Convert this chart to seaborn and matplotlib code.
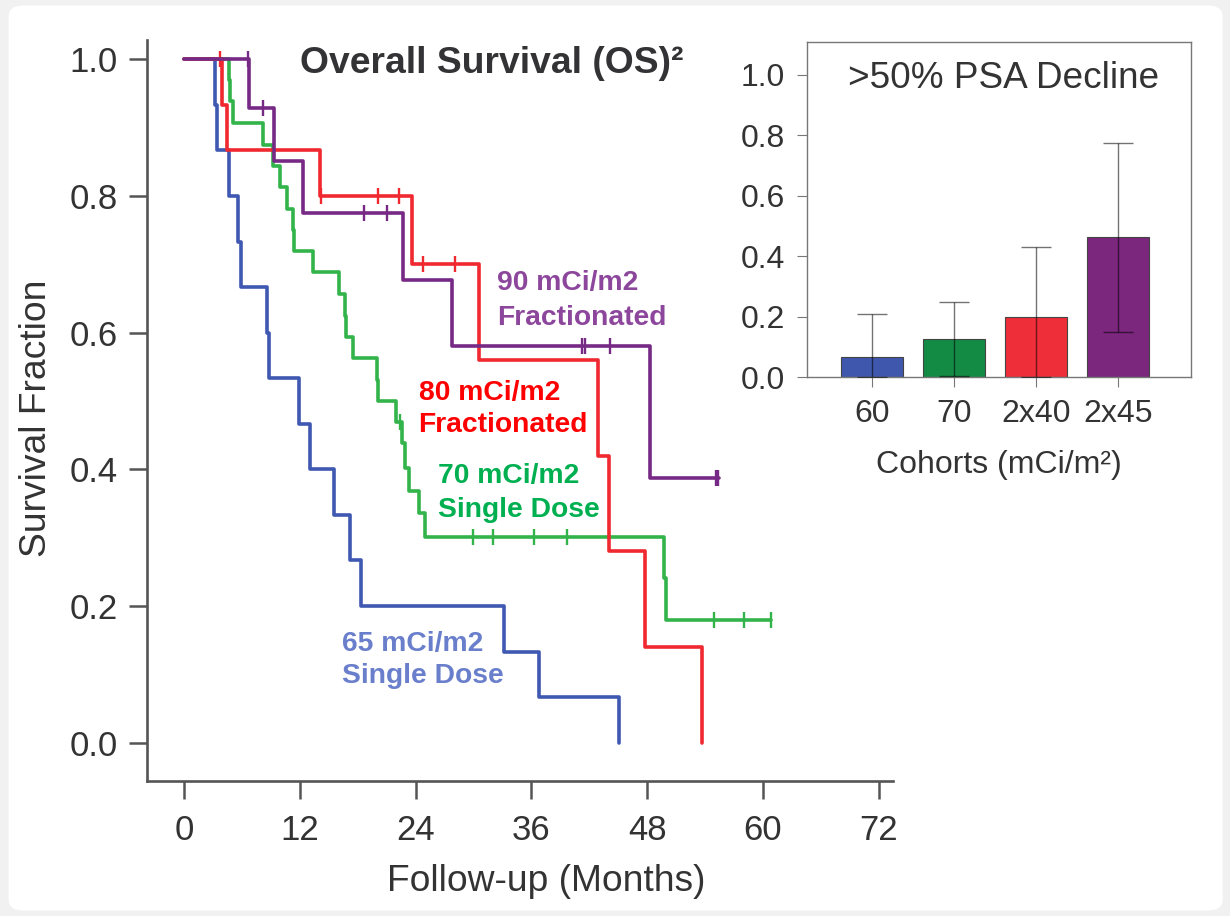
import numpy as np
import pandas as pd
import matplotlib
matplotlib.use("Agg")
import matplotlib.pyplot as plt
import seaborn as sns
from matplotlib.patches import FancyBboxPatch
from matplotlib.ticker import FormatStrFormatter

# ---------------- data ----------------
# 65 mCi/m2 single dose (blue)
blue_t = [0, 3.2, 3.4, 4.6, 5.6, 5.9, 8.6, 8.8, 11.9, 13.0, 15.5, 17.2, 18.3, 33.2, 36.8, 45.1]
blue_s = [1.0, 0.933, 0.867, 0.800, 0.733, 0.667, 0.600, 0.533, 0.467, 0.400, 0.333, 0.267, 0.200, 0.133, 0.067, 0.0]
blue_ct = []
blue_cs = []

# 70 mCi/m2 single dose (green)
green_t = [0, 4.6, 4.7, 5.05, 8.2, 9.2, 9.9, 10.7, 11.3, 11.4, 13.3, 16.0, 16.7, 16.8, 17.5,
           20.0, 20.1, 22.0, 22.6, 22.9, 23.3, 24.3, 25.0, 49.7, 50.0, 60.8]
green_s = [1.0, 0.969, 0.938, 0.906, 0.875, 0.844, 0.813, 0.781, 0.750, 0.719, 0.688, 0.656, 0.625, 0.594, 0.563,
           0.531, 0.500, 0.469, 0.438, 0.402, 0.368, 0.336, 0.301, 0.241, 0.180, 0.180]
green_ct = [22.4, 29.9, 32.0, 36.3, 39.7, 54.9, 58.0, 60.8]
green_cs = [0.469, 0.301, 0.301, 0.301, 0.301, 0.180, 0.180, 0.180]

# 80 mCi/m2 fractionated (red)
red_t = [0, 3.9, 4.4, 14.1, 23.6, 30.6, 42.9, 44.0, 47.8, 53.7]
red_s = [1.0, 0.933, 0.867, 0.800, 0.700, 0.560, 0.420, 0.280, 0.140, 0.0]
red_ct = [3.7, 14.2, 20.1, 22.3, 24.8, 28.1]
red_cs = [1.0, 0.800, 0.800, 0.800, 0.700, 0.700]

# 90 mCi/m2 fractionated (purple)
purple_t = [0, 6.7, 9.3, 12.3, 22.7, 27.8, 48.3, 55.5]
purple_s = [1.0, 0.929, 0.851, 0.775, 0.677, 0.580, 0.387, 0.387]
purple_ct = [6.6, 8.2, 18.6, 21.0, 41.2, 41.6, 44.2, 55.1, 55.4]
purple_cs = [1.0, 0.929, 0.775, 0.775, 0.580, 0.580, 0.580, 0.387, 0.387]

# inset: >50% PSA decline
cohorts = ["60", "70", "2x40", "2x45"]
psa = [0.067, 0.125, 0.200, 0.462]
psa_low = [0.0, 0.004, 0.0, 0.148]
psa_high = [0.210, 0.248, 0.430, 0.775]

x_ticks = [0, 12, 24, 36, 48, 60, 72]
y_ticks = [0.0, 0.2, 0.4, 0.6, 0.8, 1.0]
inset_ticks = [0.0, 0.2, 0.4, 0.6, 0.8, 1.0]

# ---------------- style ----------------
sns.set_theme(style="ticks")
plt.rcParams["font.family"] = ["Liberation Sans", "DejaVu Sans"]

TXT = "#333333"
SPINE = "#555555"

fig = plt.figure(figsize=(12.3, 9.16), dpi=100, facecolor="#f1f1f1")
card = FancyBboxPatch((0.007, 0.006), 0.987, 0.988,
                      boxstyle="round,pad=0,rounding_size=0.012",
                      transform=fig.transFigure, facecolor="white",
                      edgecolor="none", zorder=-10)
fig.patches.append(card)

# ---------------- main KM plot ----------------
ax = fig.add_axes([0.1195, 0.1474, 0.6065, 0.809])
ax.set_facecolor("none")

groups = [
    (blue_t, blue_s, blue_ct, blue_cs, "#3F58B2"),
    (green_t, green_s, green_ct, green_cs, "#33B44A"),
    (red_t, red_s, red_ct, red_cs, "#F0282F"),
    (purple_t, purple_s, purple_ct, purple_cs, "#772A85"),
]
for i, (t, s, ct, cs, col) in enumerate(groups):
    sns.lineplot(x=t, y=s, drawstyle="steps-post", color=col, linewidth=2.6,
                 estimator=None, sort=False, ax=ax, zorder=3 + i)
    if ct:
        sns.scatterplot(x=ct, y=cs, marker="|", s=140, linewidth=1.7,
                        color=col, ax=ax, zorder=3 + i)

ax.set_xlim(-3.87, 73.5)
ax.set_ylim(-0.0556, 1.028)
ax.set_xticks(x_ticks)
ax.set_yticks(y_ticks)
ax.yaxis.set_major_formatter(FormatStrFormatter("%.1f"))
sns.despine(ax=ax)
for sp in ("left", "bottom"):
    ax.spines[sp].set_color(SPINE)
    ax.spines[sp].set_linewidth(1.9)
ax.tick_params(length=13, width=1.8, color=SPINE, labelsize=25,
               labelcolor=TXT, pad=8)
ax.tick_params(axis="x", pad=11)
ax.set_xlabel("Follow-up (Months)", fontsize=26.8, color=TXT)
ax.xaxis.set_label_coords(0.535, -0.112)
ax.set_ylabel("Survival Fraction", fontsize=26.8, color=TXT)
ax.yaxis.set_label_coords(-0.125, 0.49)

lab = dict(fontsize=20.3, fontweight="bold", va="baseline", ha="left")
ax.text(32.45, 0.662, "90 mCi/m2", color="#8C479C", **lab)
ax.text(32.45, 0.611, "Fractionated", color="#8C479C", **lab)
ax.text(24.3, 0.501, "80 mCi/m2", color="#FF0000", **lab)
ax.text(24.3, 0.455, "Fractionated", color="#FF0000", **lab)
ax.text(26.3, 0.380, "70 mCi/m2", color="#00B050", **lab)
ax.text(26.3, 0.330, "Single Dose", color="#00B050", **lab)
ax.text(16.4, 0.1345, "65 mCi/m2", color="#6A7FCB", **lab)
ax.text(16.4, 0.087, "Single Dose", color="#6A7FCB", **lab)

fig.text(300 / 1230, 1 - 73 / 916, "Overall Survival (OS)²", fontsize=26.8,
         fontweight="bold", color="#333335", va="baseline", ha="left")

# ---------------- inset bar chart ----------------
ax2 = fig.add_axes([0.6561, 0.5884, 0.3122, 0.3657], zorder=5)
ax2.set_facecolor("white")
df = pd.DataFrame({"cohort": cohorts, "psa": psa})
bar_colors = ["#3F58AE", "#138B45", "#EE2E38", "#7A277D"]
sns.barplot(data=df, x="cohort", y="psa", hue="cohort", palette=bar_colors,
            width=0.75, edgecolor="#444444", linewidth=0.8, errorbar=None,
            legend=False, saturation=1, ax=ax2)
yerr = [np.array(psa) - np.array(psa_low), np.array(psa_high) - np.array(psa)]
ax2.errorbar(x=np.arange(len(cohorts)), y=psa, yerr=yerr, fmt="none",
             ecolor="black", alpha=0.55, elinewidth=1.0, capsize=11,
             capthick=1.0, zorder=4)
ax2.set_xlim(-0.79, 3.89)
ax2.set_ylim(0, 1.109)
ax2.set_yticks(inset_ticks)
ax2.yaxis.set_major_formatter(FormatStrFormatter("%.1f"))
for sp in ax2.spines.values():
    sp.set_visible(True)
    sp.set_color("#777777")
    sp.set_linewidth(1.0)
ax2.tick_params(length=7, width=0.8, color="#777777", labelsize=23,
                labelcolor=TXT, pad=9)
ax2.set_ylabel("")
ax2.set_xlabel("Cohorts (mCi/m²)", fontsize=23, color=TXT, labelpad=15)
fig.text(848 / 1230, 1 - 88 / 916, ">50% PSA Decline", fontsize=26.6,
         color=TXT, va="baseline", ha="left", zorder=10)

fig.savefig("out.png", dpi=100, facecolor=fig.get_facecolor())
